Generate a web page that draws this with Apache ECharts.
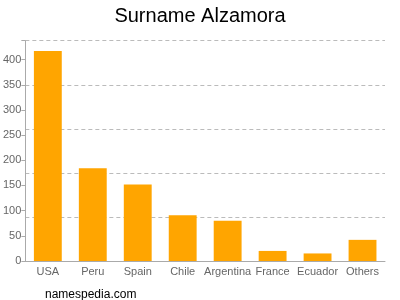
<!DOCTYPE html>
<html><head><meta charset="utf-8">
<script src="https://cdn.jsdelivr.net/npm/echarts@6/dist/echarts.min.js"></script>
<style>html,body{margin:0;padding:0;background:#fff}#c{width:400px;height:300px}</style>
</head><body><div id="c"></div>
<script>
var categories = ["USA","Peru","Spain","Chile","Argentina","France","Ecuador","Others"];
var values = [417,184,152,91,80,20,15,42];
var yMax = 437.5;
var labelInterval = 50;
var gridInterval = 87.5;

var chart = echarts.init(document.getElementById('c'));
chart.setOption({
  animation: false,
  title: [{text:"Surname Alzamora", left:"center", top:1, textStyle:{fontFamily:"Liberation Sans, Arial", fontSize:20, fontWeight:"normal", color:"#000"}},
          {text:"namespedia.com", left:40, top:284, textStyle:{fontFamily:"Liberation Sans, Arial", fontSize:12, fontWeight:"normal", color:"#000"}}],
  grid: {left:24, right:15, top:40.7, bottom:39},
  xAxis: {type:"category", data:categories,
    axisLine:{lineStyle:{color:"#aaa"}},
    axisTick:{alignWithLabel:true, length:4, lineStyle:{color:"#aaa"}},
    axisLabel:{color:"#666", fontSize:11, fontFamily:"Liberation Sans, Arial", margin:5, interval:0}},
  yAxis: [
    {type:"value", min:0, max:yMax, interval:labelInterval,
     axisLine:{show:true, lineStyle:{color:"#aaa"}},
     axisTick:{show:true, length:4, lineStyle:{color:"#aaa"}},
     splitLine:{show:false},
     axisLabel:{color:"#666", fontSize:11, fontFamily:"Liberation Sans, Arial", margin:4,
       formatter:function(v){return v>400?"":v;}}},
    {type:"value", min:0, max:yMax, interval:gridInterval, position:"left",
     axisLine:{show:false}, axisTick:{show:false}, axisLabel:{show:false},
     splitLine:{show:true, lineStyle:{color:"#bbb", type:[4,3]}}}
  ],
  series: [{type:"bar", data:values, yAxisIndex:0, barCategoryGap:"38%",
    itemStyle:{color:"#FFA500"}}]
});
</script></body></html>
